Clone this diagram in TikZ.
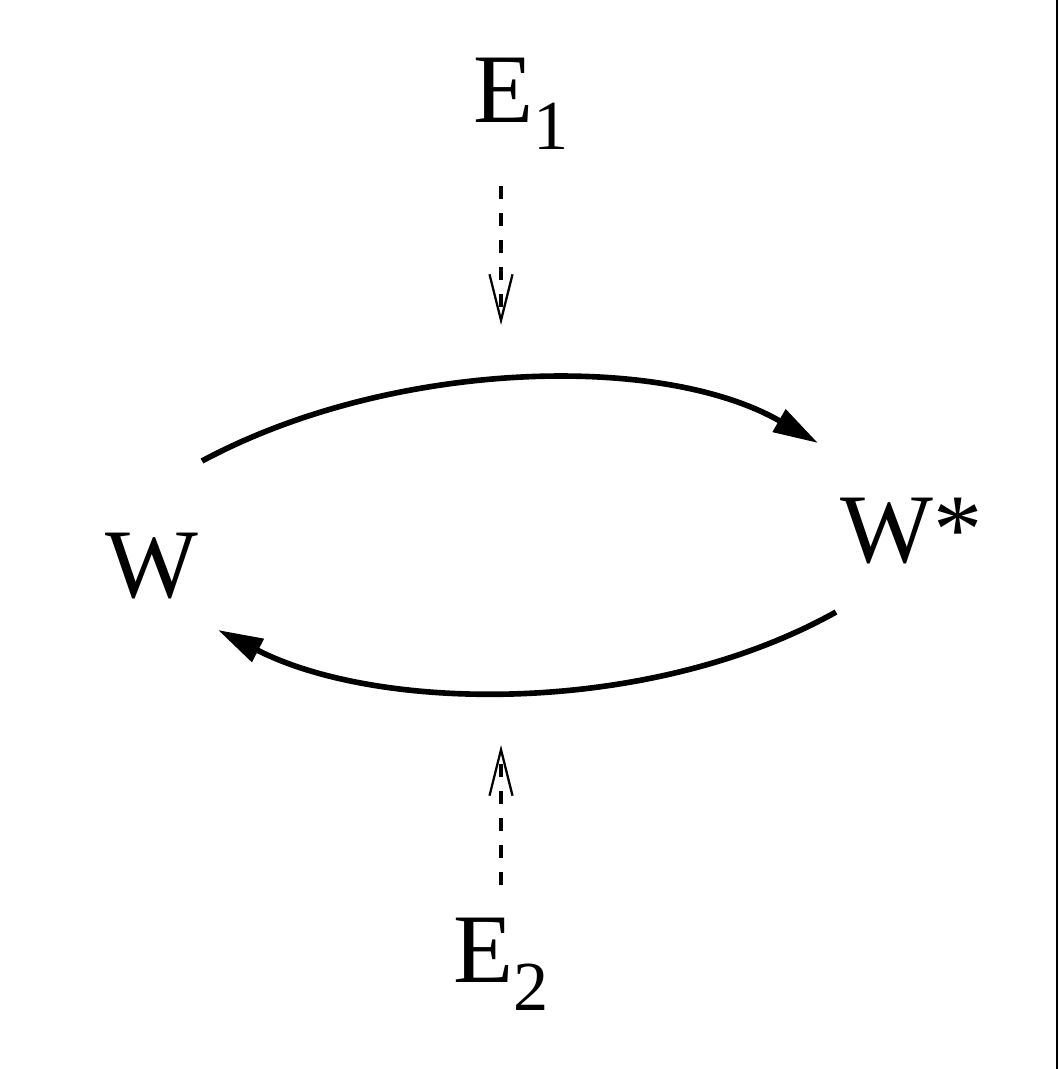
\documentclass[tikz,border=0pt]{standalone}
\usepackage{fontspec}
\setmainfont{Liberation Serif}
\usetikzlibrary{arrows.meta}
\newcommand{\subtxt}[1]{\raisebox{-0.56cm}{\fontsize{40}{40}\selectfont #1}}
\tikzset{
  lbl/.style={inner sep=0pt, anchor=base west, font=\fontsize{56}{60}\selectfont},
  flow/.style={-{Triangle[length=0.9cm, width=0.5cm]}, line width=3.2pt},
  effect/.style={-{Straight Barb[length=0.92cm, width=0.46cm, line width=1.3pt]},
    line width=2.3pt, dash pattern=on 0.26cm off 0.28cm},
}
\begin{document}
\begin{tikzpicture}[x=0.02cm, y=-0.02cm]
  \useasboundingbox (0,0) rectangle (1059,1069);
  \draw[line width=1.6pt] (1057,0) -- (1057,1069);
  % states
  \node[lbl] (W) at (105,597) {W};
  \node[lbl] (Wstar) at (840,562) {W*};
  % external inputs
  \node[lbl] (E1) at (473,122) {E\subtxt{1}};
  \node[lbl] (E2) at (453,982) {E\subtxt{2}};
  % connector ends
  \coordinate (outW) at (202,461);
  \coordinate (inWs) at (818,443);
  \coordinate (outWs) at (836,612);
  \coordinate (inW) at (218,630);
  \coordinate (from1) at (501,186);
  \coordinate (hit1) at (501,325);
  \coordinate (from2) at (501,885);
  \coordinate (hit2) at (501,745);
  % transitions
  \draw[flow] (outW) .. controls (390,360) and (660,352) .. (inWs);
  \draw[flow] (outWs) .. controls (650,716) and (380,713) .. (inW);
  \draw[effect] (from1) -- (hit1);
  \draw[effect] (from2) -- (hit2);
\end{tikzpicture}
\end{document}
